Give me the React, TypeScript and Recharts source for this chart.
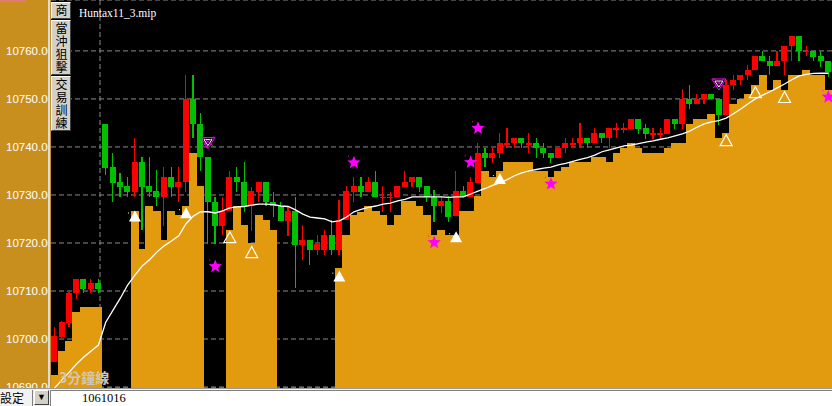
import { Bar, CartesianGrid, ComposedChart, Line, XAxis, YAxis } from "recharts";

// 3-minute bars (index futures points)
const OPEN = [
  10695.3, 10700.5, 10703.3, 10709.5, 10712.6, 10710.4, 10711.6, 10744.8, 10735.9, 10732.8,
  10731.9, 10730.7, 10736.9, 10731.9, 10730.8, 10729.6, 10733.8, 10731.7, 10732.6, 10749.9,
  10744.7, 10737.9, 10728.6, 10723.6, 10726.7, 10733.8, 10732.8, 10727.6, 10730.7, 10732.8,
  10728.6, 10727.6, 10724.6, 10726.7, 10719.6, 10720.6, 10718.5, 10718.5, 10721.7, 10718.5,
  10724.8, 10730.7, 10731.9, 10730.7, 10732.8, 10729.6, 10729.6, 10729.6, 10731.7, 10732.8,
  10733.8, 10731.9, 10729.6, 10727.6, 10728.75, 10725.6, 10730.8, 10729.6, 10732.4, 10738.7,
  10737.6, 10738.7, 10740.8, 10740.8, 10741.8, 10740.8, 10740.8, 10739.7, 10738.7, 10737.6,
  10739.7, 10740.8, 10740.8, 10741.8, 10740.8, 10743, 10741.8, 10743.6, 10743.9, 10743.75,
  10745.8, 10743.9, 10742.85, 10742.85, 10742.7, 10745.8, 10744.8, 10750, 10748.9, 10750,
  10751, 10750, 10746.7, 10752.9, 10754, 10755, 10756, 10759, 10757.9, 10756.9,
  10757.8, 10761, 10763.1, 10760, 10760, 10759, 10757.9,
];
const HIGH = [
  10702.6, 10703.8, 10709.7, 10712.6, 10712.6, 10712.6, 10712.6, 10744.8, 10738.8, 10734.6,
  10733.8, 10741.8, 10738, 10738, 10735.2, 10735.9, 10735.9, 10735.9, 10755, 10755,
  10747, 10737.9, 10729.6, 10729.6, 10734.9, 10735.9, 10736.9, 10731.7, 10732.8, 10732.8,
  10730.7, 10728.6, 10727.6, 10729.6, 10723.75, 10720.6, 10721.7, 10722.7, 10724.8, 10729,
  10731.9, 10733.8, 10733.8, 10733.8, 10734.9, 10731.9, 10730.7, 10731.9, 10734.9, 10733.8,
  10733.8, 10731.9, 10731, 10729.8, 10729.8, 10734.9, 10731.9, 10733.8, 10740.9, 10739.7,
  10739.7, 10743, 10743.9, 10741.8, 10741.8, 10743, 10741.8, 10740.8, 10738.7, 10739.7,
  10741.8, 10741.8, 10744.9, 10741.8, 10743.9, 10743, 10743.9, 10744.9, 10744.9, 10745.8,
  10745.8, 10744.8, 10743.9, 10743.9, 10745.8, 10745.8, 10752, 10752.9, 10751, 10751,
  10751, 10750, 10754, 10755, 10755, 10757.1, 10759, 10760, 10759, 10760,
  10761, 10763.1, 10763.1, 10761, 10760, 10760, 10757.9,
];
const LOW = [
  10695.3, 10700.3, 10702.6, 10708.3, 10709.5, 10709.5, 10709.5, 10734.2, 10728.6, 10729.6,
  10729.6, 10729.6, 10722.7, 10729.6, 10727.6, 10723.6, 10729.6, 10728.6, 10730.7, 10741.8,
  10734.9, 10719.8, 10719.8, 10721.7, 10726.7, 10730.7, 10726.5, 10722.4, 10728.6, 10727.6,
  10725.5, 10724.6, 10721.5, 10710.6, 10716.5, 10715.4, 10717.5, 10717.5, 10717.5, 10717.5,
  10724.8, 10728.6, 10729.6, 10730.7, 10729.6, 10726.5, 10726.5, 10729.6, 10731.7, 10731.7,
  10730.7, 10728.6, 10724.4, 10726.2, 10724.4, 10725.6, 10729.6, 10729.6, 10732.4, 10735.8,
  10736.6, 10737.6, 10739.7, 10739.7, 10739.7, 10738.7, 10737.6, 10737.6, 10736.6, 10737.6,
  10738.7, 10739.7, 10739.7, 10739.7, 10740.8, 10740.8, 10739.7, 10741.8, 10742.9, 10743.75,
  10742.7, 10741.7, 10741.7, 10741.7, 10742.7, 10743.75, 10743.75, 10747.85, 10748.9, 10748.9,
  10750, 10744.6, 10746.7, 10751.9, 10752.9, 10754, 10756, 10757.8, 10755, 10756.9,
  10755, 10757.8, 10757.8, 10759, 10757.8, 10756.7, 10754.6,
];
const CLOSE = [
  10700.6, 10703.6, 10709.65, 10712.6, 10710.4, 10711.6, 10710.4, 10735.6, 10732.4, 10731.6,
  10730.7, 10736.9, 10731.7, 10730.7, 10729.6, 10733.8, 10731.7, 10732.8, 10749.9, 10744.7,
  10737.9, 10728.6, 10723.6, 10726.7, 10733.8, 10732.6, 10727.6, 10730.9, 10732.8, 10728.6,
  10727.6, 10724.6, 10726.7, 10719.6, 10720.6, 10718.5, 10719.8, 10721.7, 10718.5, 10724.8,
  10730.9, 10731.9, 10730.7, 10732.8, 10729.6, 10729.6, 10729.6, 10731.9, 10732.8, 10733.8,
  10731.7, 10729.6, 10727.6, 10728.75, 10725.5, 10730.8, 10729.6, 10732.8, 10738.7, 10737.6,
  10738.7, 10740.8, 10740.8, 10741.8, 10740.8, 10740.8, 10739.7, 10738.7, 10737.6, 10739.7,
  10740.8, 10740.8, 10741.8, 10740.8, 10743, 10741.8, 10743.9, 10743.9, 10743.9, 10745.8,
  10743.75, 10742.7, 10742.85, 10742.85, 10745.8, 10744.8, 10750, 10748.9, 10750, 10751,
  10750, 10746.7, 10752.9, 10754, 10755, 10756, 10759, 10757.8, 10756.9, 10757.9,
  10761, 10763.1, 10760, 10760, 10758.8, 10757.8, 10755.7,
];

// stepped support level (orange), null where the indicator has no value
const SUPPORT = [
  10692.5, 10697.6, 10699.6, 10705.6, 10706.7, 10706.7, 10706.7, null, null, null,
  null, 10726.7, 10718.75, 10727.8, 10726.7, 10720.6, 10726.7, 10725.8, 10727.8, 10738.7,
  10731.9, null, null, null, 10722.7, 10727.6, 10723.75, 10719.9, 10725.8, 10724.8,
  10722.7, null, null, null, null, null, null, null, null, 10714.7,
  10721.7, 10725.8, 10726.5, 10727.7, 10726.7, 10725.8, 10723.75, 10725.8, 10728.8, 10728.8,
  10727.7, 10725.8, 10721.7, 10722.7, 10721.7, 10721.7, 10726.7, 10726.7, 10729.8, 10734.9,
  10733.8, 10734.9, 10736.9, 10736.9, 10736.9, 10736.9, 10734.9, 10734.9, 10733.8, 10734.9,
  10735.9, 10736.9, 10736.9, 10736.9, 10738, 10738, 10736.9, 10738.7, 10739.7, 10740.8,
  10739.7, 10738.7, 10738.7, 10738.7, 10739.7, 10740.8, 10740.8, 10744.8, 10745.8, 10745.8,
  10746.9, 10741.9, 10742.85, 10748.9, 10749.9, 10751, 10752.9, 10755, 10751.9, 10754,
  10751.9, 10755, 10755, 10756, 10755, 10755, 10751.9,
];

// white moving average
const AVERAGE = [
  10689.8, 10691.5, 10693.1, 10694.8, 10696.25, 10697.5, 10698.75, 10703.5, 10706, 10708.5,
  10711.25, 10713.3, 10715.2, 10716.5, 10718.1, 10719.4, 10720.4, 10721.5, 10724, 10725.6,
  10726.5, 10726.5, 10726.25, 10726.7, 10727.3, 10727.5, 10727.6, 10727.9, 10728.1, 10728.1,
  10728, 10727.7, 10727.6, 10726.9, 10726, 10725.4, 10725.2, 10725, 10724.4, 10724.6,
  10725.4, 10726.5, 10727, 10727.4, 10727.7, 10728.1, 10728.3, 10728.75, 10729.1, 10729.6,
  10729.6, 10729.6, 10729.6, 10729.6, 10729.5, 10729.6, 10729.6, 10730.2, 10730.8, 10731.35,
  10732, 10732.5, 10733.2, 10734, 10734.6, 10735, 10735.3, 10735.6, 10735.8, 10736.25,
  10736.6, 10737, 10737.4, 10737.8, 10738.3, 10739, 10739.4, 10739.8, 10740.2, 10740.4,
  10740.7, 10741, 10741.25, 10741.6, 10741.9, 10742.3, 10742.7, 10743.3, 10744.1, 10744.8,
  10745.2, 10745.5, 10746, 10746.9, 10747.9, 10749, 10750, 10750.8, 10751.5, 10752.3,
  10753.1, 10754, 10754.8, 10755.1, 10755.3, 10755.35, 10755.35,
];

// signal markers: [bar index, price]
const BUY_FILLED = [[11, 10725.5], [18, 10726.2], [39, 10713], [55, 10721.2], [61, 10733.3]];
const BUY_HOLLOW = [[24, 10721.1], [27, 10718], [92, 10741.3], [96, 10751.3], [100, 10750.3]];
const SELL_MARK = [[21, 10740.9], [91, 10753.1]];
const STAR_MARK = [[22, 10715.1], [41, 10736.7], [52, 10720.1], [57, 10736.8], [58, 10743.9], [68, 10732.3], [106, 10750.4]];

const PRICE_TICKS = [10690, 10700, 10710, 10720, 10730, 10740, 10750, 10760];

const UP = "#ff0000";
const DOWN = "#00c000";
const PANEL = "#c88f1e";
const FILL = "#e29a0e";
const MAGENTA = "#ff00ff";

const at = (list: number[][], i: number) => {
  const hit = list.find((p) => p[0] === i);
  return hit ? hit[1] : null;
};

const rows = OPEN.map((open, i) => ({
  bar: i,
  open,
  high: HIGH[i],
  low: LOW[i],
  close: CLOSE[i],
  range: [LOW[i], HIGH[i]],
  support: SUPPORT[i],
  average: AVERAGE[i],
  buyFilled: at(BUY_FILLED, i),
  buyHollow: at(BUY_HOLLOW, i),
  sell: at(SELL_MARK, i),
  star: at(STAR_MARK, i),
}));

function Candle(props: any) {
  const { x, y, width, height, payload } = props;
  const { open, close, high, low } = payload;
  const top = Math.min(y, y + height);
  const span = Math.abs(height);
  const k = high > low ? span / (high - low) : 0;
  const py = (v: number) => top + (high - v) * k;
  const color = close >= open ? UP : DOWN;
  const bw = Math.min(6, width - 1);
  const bx = x + 0.3;
  const mid = bx + bw / 2;
  const bodyTop = py(Math.max(open, close));
  const bodyH = Math.max(Math.abs(py(open) - py(close)), 1.5);
  return (
    <g shapeRendering="crispEdges">
      <rect x={mid - 0.5} y={top} width={1.2} height={span} fill={color} />
      <rect x={bx} y={bodyTop} width={bw} height={bodyH} fill={color} />
    </g>
  );
}

// orange steps: widen each bar a hair so neighbours join without seams
function Step(props: any) {
  const { x, y, width, height } = props;
  if (!height) return <g />;
  const top = Math.min(y, y + height);
  return (
    <rect
      x={Math.floor(x)}
      y={top}
      width={Math.ceil(width) + 1}
      height={Math.abs(height) + 2}
      fill={FILL}
      shapeRendering="crispEdges"
    />
  );
}

const blank = (key: number) => <g key={key} />;

function buyDot(filled: boolean) {
  return (p: any) => {
    const { cx, cy, value, index } = p;
    if (value == null || cy == null) return blank(index);
    const pts = `${cx},${cy - 6} ${cx - 6},${cy + 5} ${cx + 6},${cy + 5}`;
    return filled ? (
      <g key={index}>
        <polygon points={pts} fill="#fff" />
        <rect x={cx - 7} y={cy - 4} width={1} height={1} fill="#fff" />
      </g>
    ) : (
      <polygon key={index} points={pts} fill="none" stroke="#fff" strokeWidth={1.2} />
    );
  };
}

function sellDot(p: any) {
  const { cx, cy, value, index } = p;
  if (value == null || cy == null) return blank(index);
  return (
    <g key={index}>
      <polygon points={`${cx - 7},${cy - 5} ${cx + 7},${cy - 5} ${cx},${cy + 6}`} fill="none" stroke={MAGENTA} strokeWidth={1} />
      <polygon points={`${cx - 4},${cy - 3} ${cx + 4},${cy - 3} ${cx},${cy + 3}`} fill="none" stroke="#fff" strokeWidth={1} />
      <line x1={cx - 6} y1={cy + 4} x2={cx + 6} y2={cy - 6} stroke={MAGENTA} strokeWidth={0.8} />
      <line x1={cx + 6} y1={cy + 4} x2={cx - 6} y2={cy - 6} stroke={MAGENTA} strokeWidth={0.8} />
    </g>
  );
}

function starDot(p: any) {
  const { cx, cy, value, index } = p;
  if (value == null || cy == null) return blank(index);
  const pts: string[] = [];
  for (let k = 0; k < 10; k++) {
    const r = k % 2 === 0 ? 7 : 3;
    const a = -Math.PI / 2 + (k * Math.PI) / 5;
    pts.push(`${cx + r * Math.cos(a)},${cy + r * Math.sin(a)}`);
  }
  return (
    <g key={index}>
      <polygon points={pts.join(" ")} fill={MAGENTA} />
      <rect x={cx - 6} y={cy - 7} width={1} height={1} fill={MAGENTA} />
    </g>
  );
}

function PriceTick(props: any) {
  const { y, payload } = props;
  return (
    <svg x={0} y={y - 8} width={48} height={16}>
      <text x={6} y={12} fill="#ffffff" fontSize={11.5} fontFamily="'Liberation Sans', Arial, sans-serif">
        {Number(payload.value).toFixed(2)}
      </text>
    </svg>
  );
}

const btn: React.CSSProperties = {
  position: "absolute",
  left: 51,
  width: 20,
  boxSizing: "border-box",
  background: "#d4d0c8",
  borderTop: "1px solid #ffffff",
  borderLeft: "1px solid #ffffff",
  borderRight: "1px solid #404040",
  borderBottom: "1px solid #404040",
  color: "#000",
  fontFamily: "'Noto Sans CJK TC', sans-serif",
  fontSize: 12,
  lineHeight: "18px",
  writingMode: "vertical-rl",
  letterSpacing: 1,
  paddingTop: 1,
  overflow: "hidden",
};

export default function App() {
  return (
    <div style={{ position: "absolute", left: 0, top: 0, width: 832, height: 406, background: PANEL, overflow: "hidden" }}>
      <ComposedChart
        width={832}
        height={388}
        data={rows}
        margin={{ top: 0, right: 0, bottom: 0, left: 0 }}
        barCategoryGap={0}
        barGap={0}
      >
        <CartesianGrid
          xAxisId="c"
          fill="#000000"
          stroke="#8c8c8c"
          strokeDasharray="5 3"
          verticalPoints={[100]}
        />
        <XAxis xAxisId="c" dataKey="bar" hide />
        <XAxis xAxisId="o" dataKey="bar" hide />
        <YAxis
          width={51}
          domain={[10689.8, 10770.6]}
          allowDataOverflow
          ticks={PRICE_TICKS}
          interval={0}
          axisLine={false}
          tickLine={false}
          tick={<PriceTick />}
        />
        <Bar xAxisId="o" dataKey="support" fill={FILL} shape={<Step />} isAnimationActive={false} />
        <Bar xAxisId="c" dataKey="range" shape={<Candle />} isAnimationActive={false} />
        <Line
          xAxisId="c"
          dataKey="average"
          stroke="#ffffff"
          strokeWidth={1.3}
          dot={false}
          activeDot={false}
          isAnimationActive={false}
        />
        <Line xAxisId="c" dataKey="buyFilled" stroke="none" dot={buyDot(true)} activeDot={false} isAnimationActive={false} />
        <Line xAxisId="c" dataKey="buyHollow" stroke="none" dot={buyDot(false)} activeDot={false} isAnimationActive={false} />
        <Line xAxisId="c" dataKey="sell" stroke="none" dot={sellDot} activeDot={false} isAnimationActive={false} />
        <Line xAxisId="c" dataKey="star" stroke="none" dot={starDot} activeDot={false} isAnimationActive={false} />
      </ComposedChart>

      {/* pane separator */}
      <div style={{ position: "absolute", left: 48, top: 0, width: 2, height: 388, background: "#dcdcdc" }} />
      <div style={{ position: "absolute", left: 0, top: 0, width: 26, height: 2, background: "#e07a7a" }} />

      {/* title */}
      <div
        style={{
          position: "absolute",
          left: 79,
          top: 6,
          color: "#ffffff",
          fontFamily: "'Liberation Serif', serif",
          fontSize: 11.5,
          lineHeight: "14px",
        }}
      >
        Huntax11_3.mip
      </div>

      {/* side buttons */}
      <div style={{ ...btn, top: 2, height: 17 }}>商</div>
      <div style={{ ...btn, top: 20, height: 55 }}>當沖狙擊</div>
      <div style={{ ...btn, top: 76, height: 55 }}>交易訓練</div>

      {/* timeframe watermark */}
      <div
        style={{
          position: "absolute",
          left: 59,
          top: 368,
          color: "#cfc6b8",
          fontFamily: "'Noto Sans CJK TC', sans-serif",
          fontWeight: 700,
          fontSize: 14,
          lineHeight: "18px",
        }}
      >
        3分鐘線
      </div>

      {/* status bar */}
      <div
        style={{
          position: "absolute",
          left: 0,
          top: 388,
          width: 832,
          height: 18,
          boxSizing: "border-box",
          background: "#f2f2f2",
          borderTop: "1px solid #9a9a9a",
        }}
      >
        <div
          style={{
            position: "absolute",
            left: 0,
            top: 1,
            width: 33,
            height: 16,
            fontFamily: "'Noto Sans CJK TC', sans-serif",
            fontSize: 12,
            lineHeight: "16px",
            color: "#000",
            borderRight: "1px solid #808080",
            boxSizing: "border-box",
          }}
        >
          設定
        </div>
        <div
          style={{
            position: "absolute",
            left: 34,
            top: 1,
            width: 15,
            height: 15,
            boxSizing: "border-box",
            background: "#d4d0c8",
            borderTop: "1px solid #ffffff",
            borderLeft: "1px solid #ffffff",
            borderRight: "1px solid #404040",
            borderBottom: "1px solid #404040",
            fontSize: 9,
            lineHeight: "13px",
            textAlign: "center",
            color: "#000",
          }}
        >
          ▼
        </div>
        <div
          style={{
            position: "absolute",
            left: 50,
            top: 1,
            width: 782,
            height: 16,
            boxSizing: "border-box",
            background: "#ffffff",
            borderTop: "1px solid #808080",
            borderLeft: "1px solid #808080",
          }}
        >
          <span
            style={{
              position: "absolute",
              left: 31,
              top: 0,
              fontFamily: "'Liberation Serif', serif",
              fontSize: 12.5,
              lineHeight: "15px",
              color: "#000",
            }}
          >
            1061016
          </span>
        </div>
      </div>
    </div>
  );
}
